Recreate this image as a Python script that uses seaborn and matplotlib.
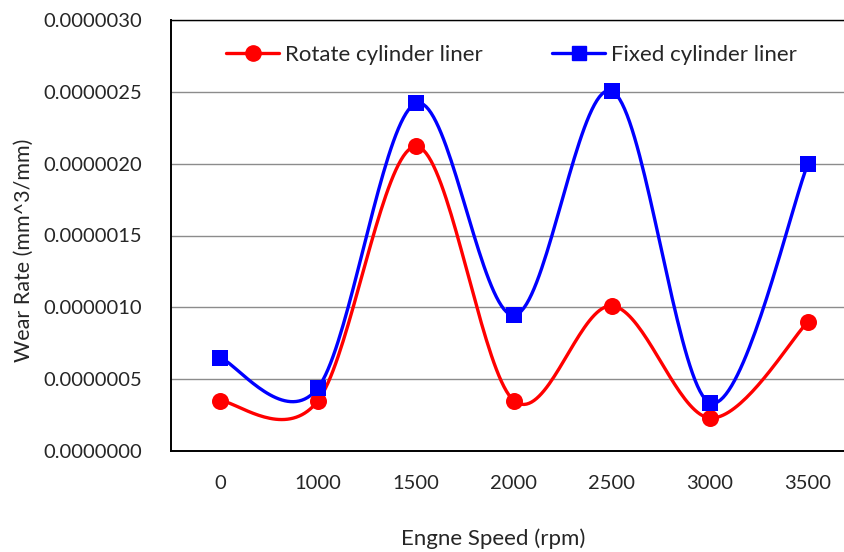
import numpy as np
import pandas as pd
import matplotlib
matplotlib.use("Agg")
import matplotlib.pyplot as plt
from matplotlib.lines import Line2D
import seaborn as sns

# Engine speed categories (rpm) and measured wear rates (mm^3/mm)
speeds = ["0", "1000", "1500", "2000", "2500", "3000", "3500"]
rotate_wear = [3.5e-7, 3.5e-7, 2.12e-6, 3.5e-7, 1.01e-6, 2.3e-7, 9.0e-7]
fixed_wear = [6.5e-7, 4.4e-7, 2.42e-6, 9.45e-7, 2.505e-6, 3.35e-7, 2.0e-6]
y_ticks = [0.0, 5e-7, 1.0e-6, 1.5e-6, 2.0e-6, 2.5e-6, 3.0e-6]

RED = "#ff0000"
BLUE = "#0000ff"
FS = 14.5
FS_TITLE = 16


def smooth(values, steps=40):
    """Cardinal (Catmull-Rom) Bezier smoothing through the data points."""
    x = np.arange(len(values), dtype=float)
    y = np.asarray(values, dtype=float)
    xs, ys = [], []
    n = len(x)
    for i in range(n - 1):
        i0, i3 = max(i - 1, 0), min(i + 2, n - 1)
        p0 = np.array([x[i0], y[i0]])
        p1 = np.array([x[i], y[i]])
        p2 = np.array([x[i + 1], y[i + 1]])
        p3 = np.array([x[i3], y[i3]])
        c1 = p1 + (p2 - p0) / 6.0
        c2 = p2 - (p3 - p1) / 6.0
        t = np.linspace(0, 1, steps)[:, None]
        b = ((1 - t) ** 3) * p1 + 3 * ((1 - t) ** 2) * t * c1 + 3 * (1 - t) * t ** 2 * c2 + t ** 3 * p2
        xs.extend(b[:, 0])
        ys.extend(b[:, 1])
    return np.array(xs), np.array(ys)


sns.set_theme(style="white")
plt.rcParams["font.family"] = ["Lato", "DejaVu Sans"]

fig = plt.figure(figsize=(8.45, 5.52), dpi=100)
ax = fig.add_axes([171 / 845, 1 - 451 / 552, 686 / 845, 431 / 552])

pos = np.arange(len(speeds))
for vals, color, marker in [(rotate_wear, RED, "o"), (fixed_wear, BLUE, "s")]:
    sx, sy = smooth(vals)
    curve = pd.DataFrame({"x": sx, "y": sy})
    sns.lineplot(data=curve, x="x", y="y", color=color, linewidth=2.4,
                 sort=False, estimator=None, ax=ax, zorder=3)
    pts = pd.DataFrame({"x": pos, "y": vals})
    sns.scatterplot(data=pts, x="x", y="y", color=color, marker=marker,
                    s=150 if marker == "o" else 140, edgecolor=color, linewidth=0,
                    ax=ax, zorder=4)

ax.set_xlim(-0.5, len(speeds) - 0.5)
ax.set_ylim(0, 3.0e-6)
ax.set_yticks(y_ticks)
ax.set_yticklabels([f"{v:.7f}" for v in y_ticks], fontsize=FS)
ax.set_xticks(pos)
ax.set_xticklabels(speeds, fontsize=FS)
ax.set_xticks(np.arange(-0.5, len(speeds), 1.0), minor=True)
ax.tick_params(axis="x", which="major", length=0, pad=17)
ax.tick_params(axis="x", which="minor", length=7, width=1, color="black", direction="out")
ax.tick_params(axis="y", which="major", length=7, width=1, color="black", direction="out", pad=14)

ax.yaxis.grid(True, color="#8c8c8c", linewidth=1)
ax.xaxis.grid(False)
ax.set_axisbelow(True)
for side in ["left", "bottom", "top"]:
    ax.spines[side].set_visible(True)
    ax.spines[side].set_color("black")
ax.spines["left"].set_linewidth(1.4)
ax.spines["bottom"].set_linewidth(1.4)
ax.spines["top"].set_linewidth(1.0)
ax.spines["right"].set_visible(False)

ax.set_xlabel("Engne Speed (rpm)", fontsize=FS_TITLE)
ax.xaxis.set_label_coords((493 - 171) / 686, -0.18)
ax.set_ylabel("Wear Rate (mm^3/mm)", fontsize=FS_TITLE - 0.5)
ax.yaxis.set_label_coords(-0.2, (451 - 250) / 431)

handles = [
    Line2D([], [], color=RED, linewidth=2.4, marker="o", markersize=11),
    Line2D([], [], color=BLUE, linewidth=2.4, marker="s", markersize=10.5),
]
ax.legend(handles, ["Rotate cylinder liner", "Fixed cylinder liner"], ncol=2,
          loc="upper left", bbox_to_anchor=((226 - 171) / 686, 0.943), frameon=False,
          borderpad=0, borderaxespad=0,
          fontsize=FS_TITLE, handlelength=2.4, handletextpad=0.27, columnspacing=3.1)

fig.savefig("out.png", dpi=100)
